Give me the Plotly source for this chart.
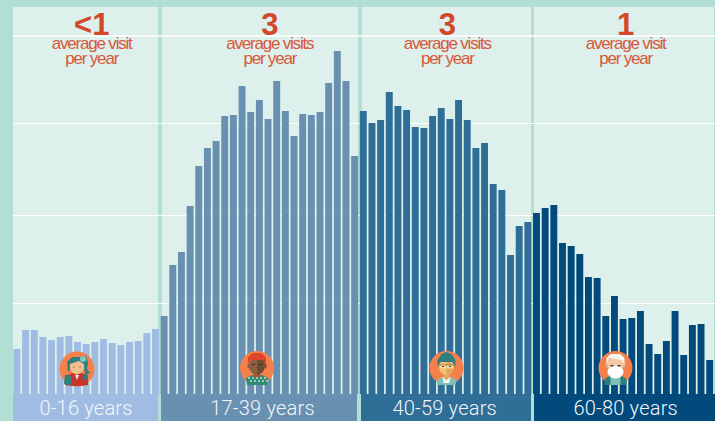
import plotly.graph_objects as go

# ---- data ----
ages_0_16 = list(range(0, 17))
ages_17_39 = list(range(17, 40))
ages_40_59 = list(range(40, 60))
ages_60_80 = list(range(60, 81))
visits_0_16 = [45,64,64,57,54,57,58,52,50,52,55,51,49,52,53,61,65]
visits_17_39 = [78,129,142,188,228,246,253,278,279,308,282,294,275,313,283,258,280,279,282,311,343,313,238]
visits_40_59 = [283,271,274,302,288,284,267,266,278,286,275,294,274,246,251,210,204,139,168,172]
visits_60_80 = [181,186,189,151,148,140,117,116,78,98,75,76,83,50,40,53,83,39,69,70,34]
grid_values = [91, 179, 270.5]
top_grid_value = 358
group_labels = ["0-16 years", "17-39 years", "40-59 years", "60-80 years"]
big_numbers = ["<1", "3", "3", "1"]
line_one = ["average visit", "average visits", "average visits", "average visit"]
line_two = ["per year", "per year", "per year", "per year"]
text_x = [8.64, 29.2, 49.7, 70.3]
label_x = [7.98, 28.36, 49.4, 70.3]
bar_colors = ["#A1BCE3", "#698FB1", "#2F6E97", "#02497C"]

W, H = 715, 421
MINT, PANEL, RED, RED2, ORANGE = "#B2DFD3", "#DDF0EB", "#D2492A", "#D9573C", "#F6804A"
X0, DX = 16.9, 8.66


def px(x):
    return x / W


def py(y):
    return 1 - y / H


shapes = []


def rect(x0, y0, x1, y1, color, layer="below"):
    shapes.append(dict(type="rect", xref="paper", yref="paper", x0=px(x0), x1=px(x1), y0=py(y0), y1=py(y1),
                       fillcolor=color, line_width=0, layer=layer))


def ell(cx, cy, rx, ry, color):
    shapes.append(dict(type="circle", xref="paper", yref="paper", x0=px(cx - rx), x1=px(cx + rx),
                       y0=py(cy + ry), y1=py(cy - ry), fillcolor=color, line_width=0, layer="above"))


def poly(cx, cy, pts, color):
    d = "M" + " L".join(f"{px(cx + a):.5f},{py(cy + b):.5f}" for a, b in pts) + " Z"
    shapes.append(dict(type="path", xref="paper", yref="paper", path=d, fillcolor=color, line_width=0, layer="above"))


# panels
for x0, x1 in [(13, 158), (162, 358), (362, 531), (534, 714)]:
    rect(x0, 7, x1, 394, PANEL)
# bottom bands
for (x0, x1), c in zip([(13, 158), (161, 357), (361, 531), (534, 715)], bar_colors):
    rect(x0, 394, x1, 421, c)


# avatars
def girl(cx, cy):
    ell(cx, cy, 17.5, 17.5, ORANGE)
    poly(cx, cy, [(-12, 16), (-12, 8), (-5, 4), (5, 4), (11, 8), (11, 16), (4, 17), (-4, 17)], "#C8352B")
    poly(cx, cy, [(-13, 15), (-12, 6), (-7, 6), (-5, 10), (-6, 16)], "#2D7F80")
    poly(cx, cy, [(5, 10), (7, 5), (11, 6), (11, 11)], "#2D7F80")
    poly(cx, cy, [(-2, 6), (2, 6), (0, 11)], "#F4E9DC")
    ell(cx, cy - 3, 7.5, 8.5, "#F3BF8C")
    poly(cx, cy, [(-9, 3), (-10, -7), (-5, -12), (4, -12), (9, -7), (9, 1), (7, -5), (2, -8), (-7, -5), (-7, 1)], "#2D7F80")
    poly(cx, cy, [(5, -13), (9, -13), (11, -6), (10, 0), (13, 4), (8, 6), (7, -4)], "#2D7F80")
    ell(cx + 6, cy - 10, 3, 3, "#7CC7BE")
    ell(cx - 3, cy - 2, 0.6, 0.8, "#704A35")
    ell(cx + 3, cy - 2, 0.6, 0.8, "#704A35")


def man(cx, cy):
    ell(cx, cy, 17, 17, ORANGE)
    poly(cx, cy, [(-10, 17), (-11, 10), (-5, 7), (5, 7), (11, 10), (10, 17)], "#2B8C72")
    for a in (-8, -4, 0, 4, 8):
        for b, off in ((10, 0), (13, 2)):
            rect(cx + a + off - 0.8, cy + b - 0.8, cx + a + off + 0.8, cy + b + 0.8, "#E5F3EE", "above")
    poly(cx, cy, [(-3, 6), (3, 6), (3, 9), (-3, 9)], "#C8452A")
    ell(cx - 8, cy - 2, 1.6, 2.5, "#8A5F42")
    ell(cx + 8, cy - 2, 1.6, 2.5, "#6F4B33")
    ell(cx, cy - 2, 8, 9, "#8A5F42")
    poly(cx, cy, [(0, -11), (8, -8), (7, 2), (3, 6), (0, 7)], "#6F4B33")
    poly(cx, cy, [(-9, -4), (-9, -11), (-4, -15), (4, -15), (9, -11), (9, -4), (6, -8), (-6, -8)], "#E0452B")
    rect(cx - 5, cy - 4, cx - 2, cy - 3, "#3E2A1E", "above")
    rect(cx + 2, cy - 4, cx + 5, cy - 3, "#3E2A1E", "above")


def woman(cx, cy):
    ell(cx, cy, 17, 17, ORANGE)
    poly(cx, cy, [(-9, 17), (-10, 12), (-4, 9), (4, 9), (10, 12), (9, 17)], "#7CC0B8")
    poly(cx, cy, [(-4, 9), (4, 9), (3, 15), (-3, 15)], "#F4F4EE")
    poly(cx, cy, [(-3, 4), (3, 4), (3, 10), (0, 12), (-3, 10)], "#E3A868")
    ell(cx, cy - 1, 7.5, 8, "#F3BF70")
    poly(cx, cy, [(0, -8), (7.5, -3), (7, 3), (3, 6), (0, 7)], "#E3A45E")
    poly(cx, cy, [(-9, -1), (-9, -8), (-5, -14), (0, -16), (5, -14), (9, -8), (9, -1), (6, -6), (-6, -6)], "#2D7F80")
    for s in (-1, 1):
        rect(cx + s * 3.5 - 3, cy - 3, cx + s * 3.5 + 3, cy + 0.5, "#F6DDA6", "above")
        rect(cx + s * 3.5 - 1, cy - 2, cx + s * 3.5 + 1, cy - 1, "#5A4330", "above")
    rect(cx - 7, cy - 3.4, cx + 7, cy - 2.7, "#7A5A3A", "above")


def oldman(cx, cy):
    ell(cx, cy, 17, 17, ORANGE)
    poly(cx, cy, [(-11, 17), (-11, 11), (-5, 7), (5, 7), (11, 11), (11, 17)], "#2C7F7D")
    poly(cx, cy, [(-5, 9), (5, 9), (5, 17), (-5, 17)], "#7CC0B8")
    ell(cx - 8, cy - 3, 2, 3, "#E3A97F")
    ell(cx + 8, cy - 3, 2, 3, "#E3A97F")
    ell(cx, cy - 3, 8, 9, "#F4C9A5")
    poly(cx, cy, [(-9, -3), (-9, -10), (-5, -14), (5, -14), (9, -10), (9, -3), (6, -8), (-6, -10)], "#F5F5F2")
    ell(cx, cy + 4, 8, 6.5, "#FFFFFF")
    rect(cx - 5, cy - 3, cx - 2, cy - 1.5, "#5A3D2B", "above")
    rect(cx + 2, cy - 3, cx + 5, cy - 1.5, "#5A3D2B", "above")


girl(77, 369)
man(257, 368)
woman(446.5, 368)
oldman(615.5, 368)

# top gridline crosses the big numbers
shapes.append(dict(type="line", xref="paper", yref="y", x0=px(13), x1=1, y0=top_grid_value, y1=top_grid_value,
                   line=dict(color="white", width=1.5), layer="above"))

fig = go.Figure()
for xs, ys, c in zip([ages_0_16, ages_17_39, ages_40_59, ages_60_80],
                     [visits_0_16, visits_17_39, visits_40_59, visits_60_80], bar_colors):
    fig.add_trace(go.Bar(x=xs, y=ys, width=0.8, marker=dict(color=c, line_width=0), hoverinfo="x+y", showlegend=False))

fig.add_trace(go.Scatter(x=text_x, y=[367] * 4, mode="text", text=big_numbers, hoverinfo="skip", showlegend=False,
                         textposition="middle center",
                         textfont=dict(family="Liberation Sans", size=31, color=RED, weight="bold")))
fig.add_trace(go.Scatter(x=text_x, y=[349] * 4, mode="text", text=line_one, hoverinfo="skip", showlegend=False,
                         textposition="middle center",
                         textfont=dict(family="Liberation Sans", size=17, color=RED2)))
fig.add_trace(go.Scatter(x=text_x, y=[334] * 4, mode="text", text=line_two, hoverinfo="skip", showlegend=False,
                         textposition="middle center",
                         textfont=dict(family="Liberation Sans", size=17, color=RED2)))
fig.add_trace(go.Scatter(x=label_x, y=[-16] * 4, mode="text", text=group_labels, hoverinfo="skip",
                         showlegend=False, textposition="middle center",
                         textfont=dict(family="Roboto", size=20, color="#F2F6FA", weight=300)))

fig.update_layout(
    width=W, height=H, margin=dict(l=0, r=0, t=0, b=0), paper_bgcolor=MINT, plot_bgcolor="rgba(0,0,0,0)",
    barmode="overlay", shapes=shapes,
    xaxis=dict(domain=[13 / W, 1], range=[(13 - X0) / DX, (715 - X0) / DX], showgrid=False, zeroline=False,
               showticklabels=False, ticks=""),
    yaxis=dict(domain=[0, 1], range=[-27, 394], tickvals=grid_values, showticklabels=False, ticks="",
               gridcolor="white", gridwidth=1.3, zeroline=False),
)
css = (
    "html,body{margin:0;padding:0;overflow:hidden}"
    ".textpoint text[style*='Liberation'][style*='17px']{letter-spacing:-1.2px}"
    ".textpoint text[style*='Roboto']{letter-spacing:0.2px}"
)
post = (
    "var s=document.createElement('style');s.textContent=" + repr(css) + ";document.head.appendChild(s);"
)
fig.write_html("out.html", config=dict(displayModeBar=False), post_script=post)
